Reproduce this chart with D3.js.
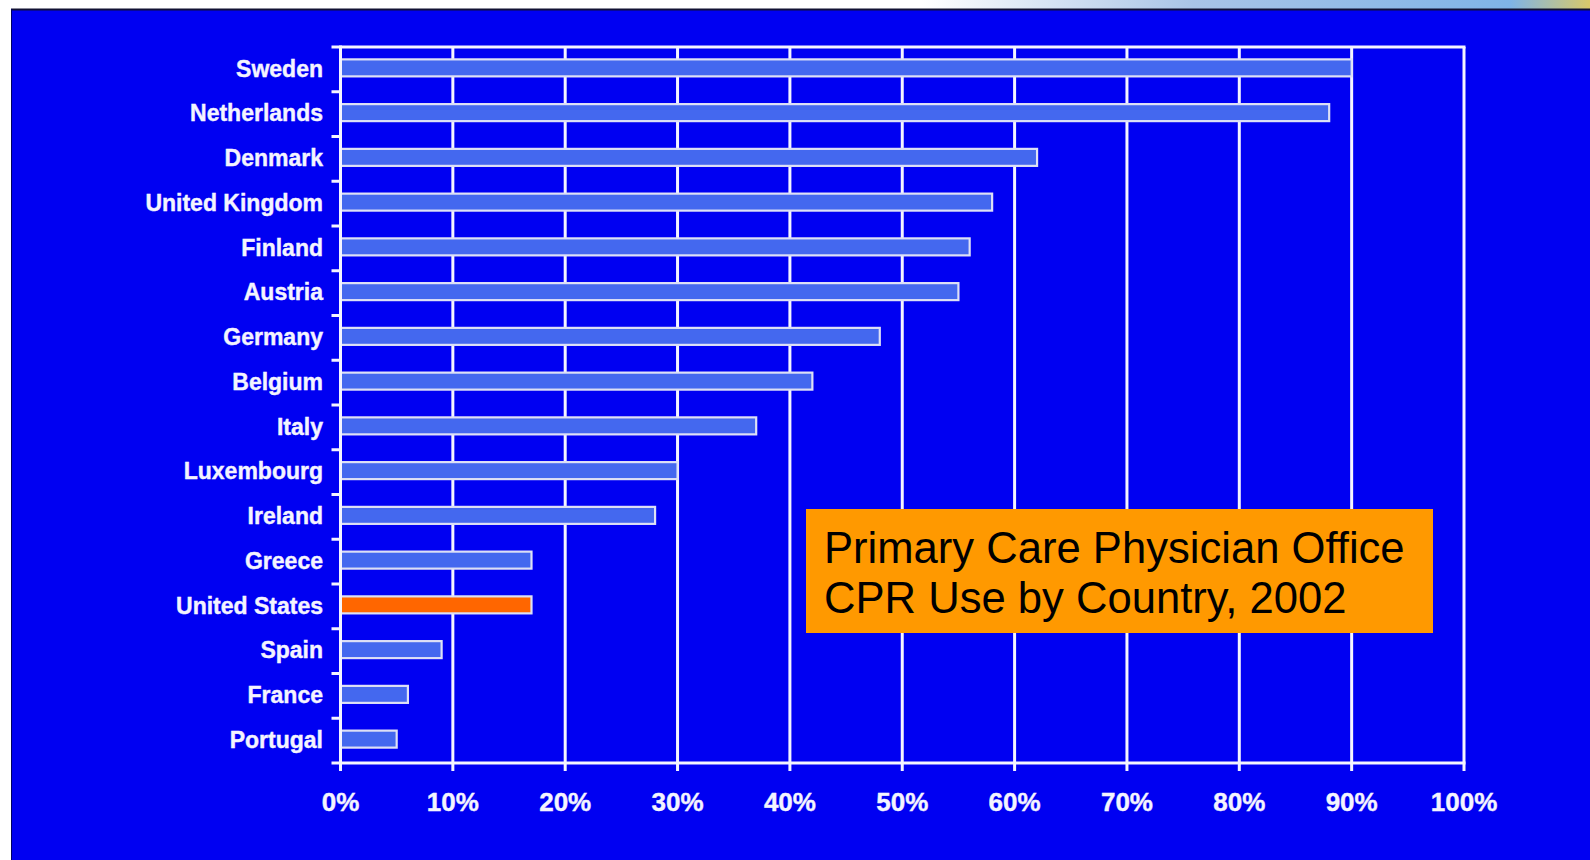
<!DOCTYPE html>
<html>
<head>
<meta charset="utf-8">
<script src="https://cdn.jsdelivr.net/npm/d3@7/dist/d3.min.js"></script>
<style>
  html, body { margin: 0; padding: 0; background: #ffffff; }
  svg { display: block; }
</style>
</head>
<body>
<svg id="chart" width="1590" height="860"></svg>
<script>
// ---- data ----
const countries = ["Sweden", "Netherlands", "Denmark", "United Kingdom", "Finland", "Austria",
  "Germany", "Belgium", "Italy", "Luxembourg", "Ireland", "Greece", "United States",
  "Spain", "France", "Portugal"];
const cprUse = [0.90, 0.88, 0.62, 0.58, 0.56, 0.55, 0.48, 0.42, 0.37, 0.30, 0.28, 0.17, 0.17, 0.09, 0.06, 0.05];
const highlighted = ["United States"];
const xTicks = [0, 0.1, 0.2, 0.3, 0.4, 0.5, 0.6, 0.7, 0.8, 0.9, 1.0];
const titleLines = ["Primary Care Physician Office", "CPR Use by Country, 2002"];

// ---- layout ----
const W = 1590, H = 860;
const plot = { left: 340.5, right: 1464, top: 47, bottom: 763 };
const bgBlue = "#0000f2";
const barBlue = "#4468ef";
const usOrange = "#ff6600";
const font = "'Liberation Sans', Arial, Helvetica, sans-serif";

const svg = d3.select("#chart");

// page background + top decorative strip
const defs = svg.append("defs");
const grad = defs.append("linearGradient").attr("id", "topStrip").attr("x1", 0).attr("x2", 1).attr("y1", 0).attr("y2", 0);
grad.append("stop").attr("offset", "0%").attr("stop-color", "#ffffff");
grad.append("stop").attr("offset", "58%").attr("stop-color", "#ffffff");
grad.append("stop").attr("offset", "75%").attr("stop-color", "#a9c4e6");
grad.append("stop").attr("offset", "95%").attr("stop-color", "#7fb4e6");
grad.append("stop").attr("offset", "100%").attr("stop-color", "#d9c96a");
svg.append("rect").attr("x", 0).attr("y", 0).attr("width", W).attr("height", H).attr("fill", "#ffffff");
svg.append("rect").attr("x", 0).attr("y", 0).attr("width", W).attr("height", 9).attr("fill", "url(#topStrip)");
svg.append("rect").attr("x", 11).attr("y", 9).attr("width", W - 11).attr("height", H - 9).attr("fill", bgBlue);
svg.append("line").attr("x1", 11).attr("x2", W).attr("y1", 9.5).attr("y2", 9.5).attr("stroke", "#111133").attr("stroke-width", 2);
svg.append("line").attr("x1", 11.5).attr("x2", 11.5).attr("y1", 9).attr("y2", H).attr("stroke", "#000066").attr("stroke-width", 1);

// ---- scales ----
const x = d3.scaleLinear().domain([0, 1]).range([plot.left, plot.right]);
const y = d3.scaleBand().domain(countries).range([plot.top, plot.bottom]).paddingInner(0.62).paddingOuter(0.31);
const yStep = d3.scaleBand().domain(countries).range([plot.top, plot.bottom]).padding(0);

const white = "#f4f4ff";

// vertical gridlines (incl. right border) with bottom ticks
svg.append("g").selectAll("line").data(xTicks).join("line")
  .attr("x1", d => x(d)).attr("x2", d => x(d))
  .attr("y1", plot.top).attr("y2", plot.bottom + 8)
  .attr("stroke", white).attr("stroke-width", 3);

// top border line
svg.append("line").attr("x1", plot.left - 9).attr("x2", plot.right + 1.5)
  .attr("y1", plot.top).attr("y2", plot.top).attr("stroke", white).attr("stroke-width", 3);
// bottom axis line
svg.append("line").attr("x1", plot.left - 9).attr("x2", plot.right + 1.5)
  .attr("y1", plot.bottom).attr("y2", plot.bottom).attr("stroke", white).attr("stroke-width", 3);
// left ticks at category boundaries
svg.append("g").selectAll("line").data(countries.slice(1)).join("line")
  .attr("x1", plot.left - 9).attr("x2", plot.left)
  .attr("y1", d => yStep(d)).attr("y2", d => yStep(d))
  .attr("stroke", white).attr("stroke-width", 3);

// bars
const data = countries.map((c, i) => ({ country: c, value: cprUse[i] }));
svg.append("g").selectAll("rect").data(data).join("rect")
  .attr("x", x(0))
  .attr("y", d => y(d.country) - 1.5)
  .attr("width", d => x(d.value) - x(0))
  .attr("height", y.bandwidth())
  .attr("fill", d => highlighted.includes(d.country) ? usOrange : barBlue)
  .attr("stroke", "#dde0f6").attr("stroke-width", 2.2);

// left axis line (over bars)
svg.append("line").attr("x1", plot.left).attr("x2", plot.left)
  .attr("y1", plot.top - 1.5).attr("y2", plot.bottom + 8)
  .attr("stroke", white).attr("stroke-width", 3);

// category labels
svg.append("g").selectAll("text").data(countries).join("text")
  .attr("x", 323)
  .attr("y", d => y(d) - 1 + y.bandwidth() / 2)
  .attr("dy", "0.36em")
  .attr("text-anchor", "end")
  .attr("fill", "#f4f4ff")
  .attr("stroke", "#f4f4ff").attr("stroke-width", 0.4)
  .attr("font-family", font).attr("font-weight", "bold").attr("font-size", "23px")
  .text(d => d);

// x tick labels
svg.append("g").selectAll("text").data(xTicks).join("text")
  .attr("x", d => x(d))
  .attr("y", 811)
  .attr("text-anchor", "middle")
  .attr("fill", "#f4f4ff")
  .attr("stroke", "#f4f4ff").attr("stroke-width", 0.4)
  .attr("font-family", font).attr("font-weight", "bold").attr("font-size", "26px")
  .text(d => d3.format(".0%")(d));

// title box
svg.append("rect").attr("x", 806).attr("y", 509).attr("width", 627).attr("height", 124)
  .attr("fill", "#ff9900");
svg.append("g").selectAll("text").data(titleLines).join("text")
  .attr("x", 824)
  .attr("y", (d, i) => 563 + i * 50)
  .attr("fill", "#000000")
  .attr("font-family", font).attr("font-size", "43.6px")
  .text(d => d);
</script>
</body>
</html>
